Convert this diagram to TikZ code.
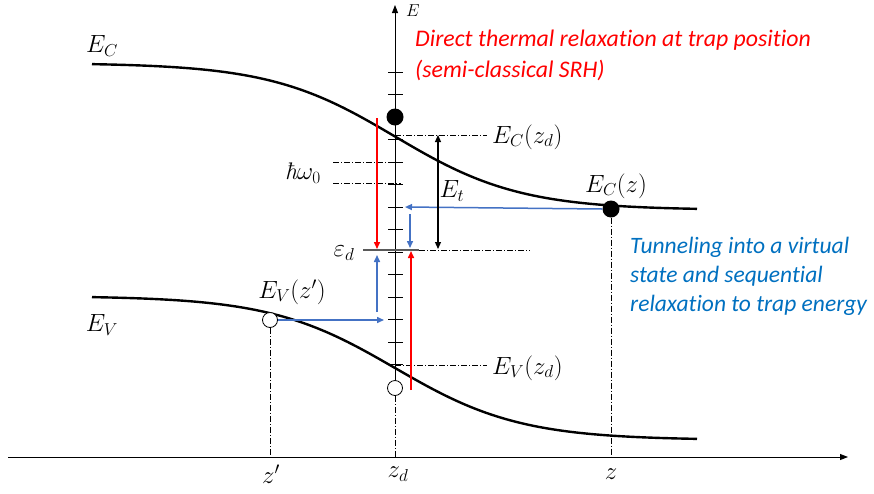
\documentclass[tikz,border=0pt]{standalone}
\usepackage{fontspec}
\newfontfamily\calib[Ligatures=NoCommon]{Carlito}
\usetikzlibrary{arrows.meta}
\definecolor{myred}{RGB}{255,0,0}
\definecolor{arrblue}{RGB}{68,114,196}
\definecolor{txtblue}{RGB}{0,112,192}
\definecolor{lgray}{RGB}{90,90,90}
\begin{document}
\begin{tikzpicture}[x=1pt,y=-1pt,
  band/.style={line width=2.4pt, black},
  ax/.style={line width=0.9pt, -{Triangle[length=8pt,width=6pt]}},
  arr/.style={line width=1.5pt, -{Triangle[length=7pt,width=6pt]}},
  redarr/.style={arr, myred},
  bluearr/.style={arr, arrblue},
  dd/.style={line width=0.6pt, dash pattern=on 6pt off 2pt on 1pt off 2pt},
  lab/.style={inner sep=0, font=\fontsize{24}{28}\selectfont},
  fulldot/.style={circle, fill=black, minimum size=17pt, inner sep=0},
  holedot/.style={circle, draw=black, fill=white, line width=0.8pt, minimum size=15pt, inner sep=0},
  note/.style={inner sep=0, align=left}
]
\useasboundingbox (0,0) rectangle (874,493);

% axes
\draw[ax] (8,457) -- (848,457);
\draw[ax] (395,387) -- (395,5);
\foreach \k in {0,...,14} \draw[line width=0.8pt] (388,{72+22.5*\k}) -- (403,{72+22.5*\k});
\node[inner sep=0, font=\fontsize{16}{18}\selectfont] (E) at (413,11) {$E$};

% bands
\draw[band] plot[domain=92:697, samples=150] (\x, {63+147*(1+tanh((\x-395)/125))/2});
\draw[band] plot[domain=92:697, samples=150] (\x, {296+144*(1+tanh((\x-395)/125))/2});
\node[lab] (EC) at (102,46) {$E_C$};
\node[lab] (EV) at (102,325) {$E_V$};

% carriers
\node[fulldot] (dotd) at (395,117) {};
\node[holedot] (hz) at (395,388) {};
\node[fulldot] (dotz) at (611,209) {};
\node[holedot] (hzp) at (270,320) {};

% level lines
\coordinate (ecd0) at (395,135); \coordinate (ecd1) at (487,135);
\coordinate (evd0) at (395,365); \coordinate (evd1) at (487,365);
\draw[dd] (ecd0) -- (ecd1);
\draw[dd] (evd0) -- (evd1);
\node[lab, anchor=west] (ECzd) at (492,137) {$E_C(z_d)$};
\node[lab, anchor=west] (EVzd) at (492,368) {$E_V(z_d)$};
\coordinate (hw1a) at (333,162); \coordinate (hw1b) at (401,162);
\coordinate (hw2a) at (333,183); \coordinate (hw2b) at (401,183);
\draw[dd] (hw1a) -- (hw1b);
\draw[dd] (hw2a) -- (hw2b);
\node[lab] (hw) at (303,173) {{\itshape ħ}$\omega_0$};
\coordinate (eda) at (363,250); \coordinate (edb) at (419,250); \coordinate (edc) at (530,250);
\draw[lgray, line width=1.3pt] (eda) -- (edb);
\draw[dd] (edb) -- (edc);
\node[lab] (ed) at (344,253) {$\varepsilon_d$};

% drop lines
\coordinate (zp) at (270,457); \coordinate (zd) at (395,457); \coordinate (zz) at (611,457);
\draw[dd] (hzp.south) -- (zp);
\draw[dd] (hz.south) -- (zd);
\draw[dd] (dotz.south) -- (zz);
\node[lab] (zpl) at (271,474) {$z'$};
\node[lab] (zdl) at (398,474) {$z_d$};
\node[lab] (zl) at (611,474) {$z$};

% transitions
\coordinate (r1a) at (377,118); \coordinate (r1b) at (377,249);
\coordinate (r2a) at (411,390); \coordinate (r2b) at (411,251);
\draw[redarr] (r1a) -- (r1b);
\draw[redarr] (r2a) -- (r2b);
\coordinate (b1) at (405,207);
\draw[bluearr] (dotz.west) -- (b1);
\coordinate (b2a) at (410,214); \coordinate (b2b) at (410,248);
\draw[bluearr] (b2a) -- (b2b);
\coordinate (b3) at (384,320);
\draw[bluearr] (hzp.east) -- (b3);
\coordinate (b4a) at (377,312); \coordinate (b4b) at (377,255);
\draw[bluearr] (b4a) -- (b4b);
\coordinate (eta) at (438,135); \coordinate (etb) at (438,249);
\draw[line width=1.2pt, {Triangle[length=7pt,width=6pt]}-{Triangle[length=7pt,width=6pt]}] (eta) -- (etb);
\node[lab] (Et) at (452,191) {$E_t$};
\node[lab] (ECz) at (616,186) {$E_C(z)$};
\node[lab] (EVzp) at (292,292) {$E_V(z')$};

% notes
\node[note, text=myred, anchor=north west, font=\calib\itshape\fontsize{23.8}{31}\selectfont] (direct) at (415,30) {Direct thermal relaxation at trap position\\(semi-classical SRH)};
\node[note, text=txtblue, anchor=north west, font=\calib\itshape\fontsize{23.5}{29}\selectfont] (tunnel) at (630,237) {Tunneling into a virtual\\state and sequential\\relaxation to trap energy};
\end{tikzpicture}
\end{document}
